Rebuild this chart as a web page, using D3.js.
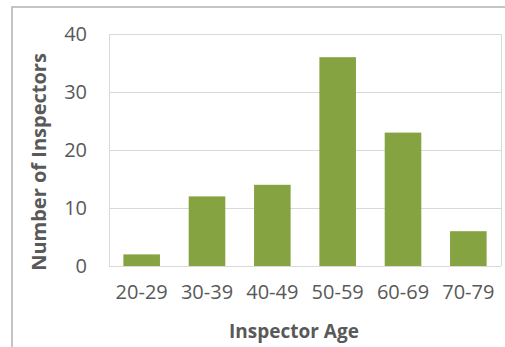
<!DOCTYPE html>
<html>
<head>
<meta charset="utf-8">
<script src="https://cdn.jsdelivr.net/npm/d3@7"></script>
<style>
  html, body { margin: 0; padding: 0; background: #fff; }
  svg { display: block; }
</style>
</head>
<body>
<svg id="chart" width="505" height="347"></svg>
<script>
// Inspector counts by age group
const ageGroups = ["20-29", "30-39", "40-49", "50-59", "60-69", "70-79"];
const inspectorCounts = [2, 12, 14, 36, 23, 6];
const yTicks = [0, 10, 20, 30, 40];

const svg = d3.select("#chart");
const W = 505, H = 347;
const plot = { left: 109, right: 501, top: 34, bottom: 266 };
const textColor = "#595959";
const font = "'Open Sans', sans-serif";

// Outer chart frame
svg.append("rect")
  .attr("x", 12).attr("y", 7)
  .attr("width", W + 20).attr("height", H + 20)
  .attr("fill", "none")
  .attr("stroke", "#b3b3b3")
  .attr("stroke-width", 1.5);

const x = d3.scaleBand()
  .domain(ageGroups)
  .range([plot.left, plot.right])
  .paddingInner(0.44)
  .paddingOuter(0.22);

const y = d3.scaleLinear()
  .domain([0, 40])
  .range([plot.bottom, plot.top]);

// Horizontal gridlines
svg.append("g")
  .selectAll("line")
  .data(yTicks)
  .join("line")
  .attr("x1", plot.left).attr("x2", plot.right)
  .attr("y1", d => y(d) + 0.5).attr("y2", d => y(d) + 0.5)
  .attr("stroke", "#d9d9d9")
  .attr("stroke-width", 1);

// Plot area side borders
svg.append("line")
  .attr("x1", plot.left + 0.5).attr("x2", plot.left + 0.5)
  .attr("y1", plot.top).attr("y2", plot.bottom)
  .attr("stroke", "#d9d9d9");
svg.append("line")
  .attr("x1", plot.right + 0.5).attr("x2", plot.right + 0.5)
  .attr("y1", plot.top).attr("y2", plot.bottom)
  .attr("stroke", "#d9d9d9");

// Bars
svg.append("g")
  .selectAll("rect")
  .data(ageGroups.map((g, i) => ({ group: g, value: inspectorCounts[i] })))
  .join("rect")
  .attr("x", d => x(d.group))
  .attr("width", x.bandwidth())
  .attr("y", d => y(d.value))
  .attr("height", d => y(0) - y(d.value))
  .attr("fill", "#85a441");

// Y axis labels
const yAxis = svg.append("g")
  .attr("transform", `translate(${plot.left},0)`)
  .call(d3.axisLeft(y).tickValues(yTicks).tickSize(0).tickPadding(22).tickFormat(d3.format("d")));
yAxis.select(".domain").remove();
yAxis.selectAll("text")
  .attr("fill", textColor)
  .style("font-family", font)
  .style("font-size", "20px");

// X axis labels
const xAxis = svg.append("g")
  .attr("transform", `translate(0,${plot.bottom})`)
  .call(d3.axisBottom(x).tickSize(0).tickPadding(19));
xAxis.select(".domain").remove();
xAxis.selectAll("text")
  .attr("fill", textColor)
  .style("font-family", font)
  .style("font-size", "20px");

// Axis titles
svg.append("text")
  .attr("x", 294).attr("y", 338)
  .attr("text-anchor", "middle")
  .attr("fill", textColor)
  .style("font-family", font)
  .style("font-weight", "bold")
  .style("font-size", "19px")
  .text("Inspector Age");

svg.append("text")
  .attr("transform", "translate(46,162) rotate(-90)")
  .attr("text-anchor", "middle")
  .attr("fill", textColor)
  .style("font-family", font)
  .style("font-weight", "bold")
  .style("font-size", "20px")
  .text("Number of Inspectors");
</script>
</body>
</html>
